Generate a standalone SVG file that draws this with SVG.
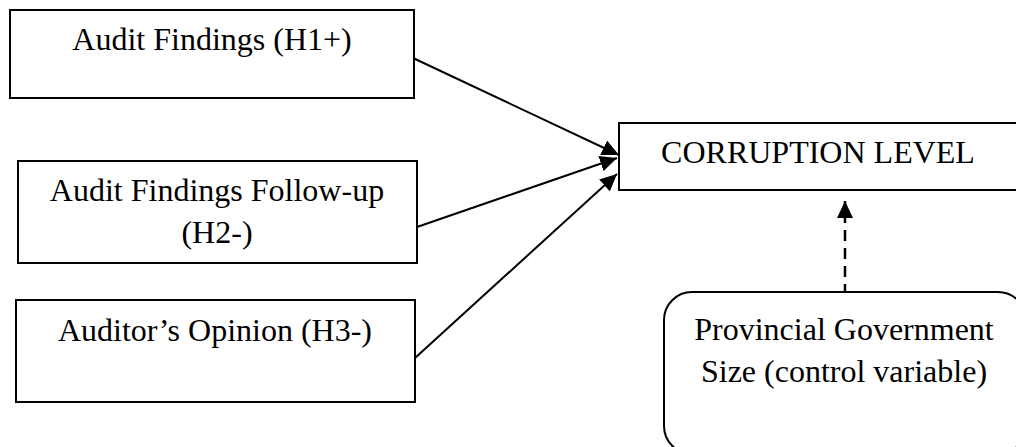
<svg xmlns="http://www.w3.org/2000/svg" width="1016" height="447" viewBox="0 0 1016 447">
  <style>
    .box { fill: #ffffff; stroke: #000000; stroke-width: 2; }
    .lbl { font-family: "Liberation Serif", "Times New Roman", serif; font-size: 32px; fill: #000000; text-anchor: middle; }
    .conn { fill: none; stroke: #000000; stroke-width: 2; }
    .dash { stroke-width: 2.5; stroke-dasharray: 11 7; }
  </style>
  <defs>
    <marker id="arrow" markerUnits="userSpaceOnUse" markerWidth="18" markerHeight="16" refX="17" refY="8" orient="auto">
      <path d="M0,0 L17,8 L0,16 Z" fill="#000000"/>
    </marker>
  </defs>
  <rect width="1016" height="447" fill="#ffffff"/>

  <g id="connectors">
    <line class="conn" x1="413" y1="58" x2="619" y2="155" marker-end="url(#arrow)"/>
    <line class="conn" x1="417" y1="227" x2="617" y2="158" marker-end="url(#arrow)"/>
    <line class="conn" x1="415" y1="358" x2="617" y2="174" marker-end="url(#arrow)"/>
    <line class="conn dash" x1="845" y1="295" x2="845" y2="201" marker-end="url(#arrow)"/>
  </g>

  <g id="node-h1">
    <rect class="box" x="10" y="10" width="404" height="88"/>
    <text class="lbl" x="212" y="50">Audit Findings (H1+)</text>
  </g>

  <g id="node-h2">
    <rect class="box" x="18" y="161" width="399" height="102"/>
    <text class="lbl" x="217" y="201">Audit Findings Follow-up</text>
    <text class="lbl" x="217" y="243">(H2-)</text>
  </g>

  <g id="node-h3">
    <rect class="box" x="16" y="300" width="399" height="102"/>
    <text class="lbl" x="215" y="341">Auditor’s Opinion (H3-)</text>
  </g>

  <g id="node-corruption">
    <rect class="box" x="619" y="123" width="400" height="67"/>
    <text class="lbl" x="818" y="163">CORRUPTION LEVEL</text>
  </g>

  <g id="node-control">
    <rect class="box" x="664" y="292" width="362" height="162" rx="28" ry="28"/>
    <text class="lbl" x="844" y="340">Provincial Government</text>
    <text class="lbl" x="844" y="382">Size (control variable)</text>
  </g>
</svg>
